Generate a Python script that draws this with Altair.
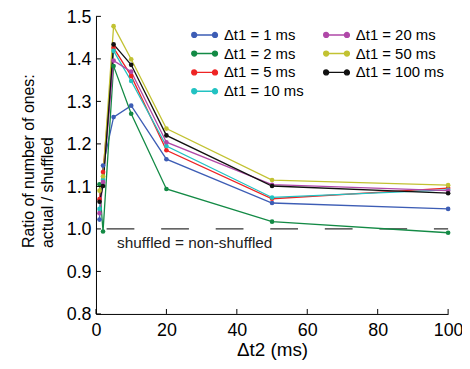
import altair as alt
import pandas as pd

dt2 = [1, 2, 5, 10, 20, 50, 100]
series_names = ["Δt1 = 1 ms", "Δt1 = 2 ms", "Δt1 = 5 ms", "Δt1 = 10 ms",
                "Δt1 = 20 ms", "Δt1 = 50 ms", "Δt1 = 100 ms"]
s1 = [1.022, 1.149, 1.263, 1.290, 1.164, 1.061, 1.047]
s2 = [1.105, 0.994, 1.383, 1.271, 1.094, 1.017, 0.991]
s5 = [1.070, 1.134, 1.426, 1.360, 1.185, 1.071, 1.096]
s10 = [1.047, 1.115, 1.419, 1.348, 1.195, 1.074, 1.092]
s20 = [1.037, 1.110, 1.396, 1.370, 1.204, 1.104, 1.090]
s50 = [1.090, 1.124, 1.477, 1.399, 1.236, 1.115, 1.103]
s100 = [1.064, 1.101, 1.434, 1.386, 1.220, 1.101, 1.084]
colors = ["#3D5DB5", "#138A45", "#EE2424", "#22C2C2", "#B048A8", "#C2C232", "#111111"]

y_ticks = [0.8, 0.9, 1.0, 1.1, 1.2, 1.3, 1.4, 1.5]
x_ticks = [0, 20, 40, 60, 80, 100]
ref_value = [1.0]
ref_label = ["shuffled = non-shuffled"]

all_series = [s1, s2, s5, s10, s20, s50, s100]
rows = []
for name, vals in zip(series_names, all_series):
    for x, v in zip(dt2, vals):
        rows.append({"dt2": x, "ratio": v, "series": name})
df = pd.DataFrame(rows)

FONT = "Liberation Sans"
W, H = 355, 300

xscale = alt.Scale(domain=[0, 100], nice=False)
yscale = alt.Scale(domain=[0.8, 1.5], nice=False, zero=False)
cscale = alt.Scale(domain=series_names, range=colors)

sym = ("M-1.9,0L1.9,0"
       "M-2.35,0A0.45,0.45,0,1,0,-1.45,0A0.45,0.45,0,1,0,-2.35,0"
       "M1.45,0A0.45,0.45,0,1,0,2.35,0A0.45,0.45,0,1,0,1.45,0")

xaxis = alt.Axis(values=x_ticks, title="Δt2 (ms)", grid=False, ticks=False,
                 labelFontSize=18, titleFontSize=19, labelPadding=8,
                 labelFlush=False, titlePadding=1, domainColor="#000",
                 labelColor="#000", titleColor="#000", titleFontWeight="normal")
yaxis = alt.Axis(values=y_ticks, format=".1f", grid=False, ticks=False,
                 title=["Ratio of number of ones:", "actual / shuffled"],
                 labelFontSize=18, titleFontSize=16, labelPadding=5,
                 labelFlush=False, labelOffset=1,
                 titleAngle=270, titleAlign="left", titleBaseline="alphabetic",
                 titleX=-63, titleY=233, titleLineHeight=19,
                 domainColor="#000", labelColor="#000", titleColor="#000",
                 titleFontWeight="normal")

base = alt.Chart(df)

ref = alt.Chart(pd.DataFrame({"v": ref_value})).mark_rule(
    color="#333", strokeWidth=1.4, strokeDash=[28, 27], strokeDashOffset=13.7
).encode(y=alt.Y("v:Q", scale=yscale, axis=yaxis))

lines = base.mark_line(strokeWidth=1.3).encode(
    x=alt.X("dt2:Q", scale=xscale, axis=xaxis),
    y=alt.Y("ratio:Q", scale=yscale),
    color=alt.Color("series:N", scale=cscale,
                    legend=alt.Legend(title=None, orient="none", legendX=96,
                                      legendY=11, columns=2, symbolType=sym,
                                      symbolSize=121, symbolStrokeWidth=1.4,
                                      labelFontSize=15, labelFont=FONT,
                                      labelColor="#000", labelOffset=12,
                                      rowPadding=3, columnPadding=16,
                                      symbolOffset=6)),
    detail="series:N",
)
points = base.mark_point(filled=True, size=22, opacity=1).encode(
    x=alt.X("dt2:Q", scale=xscale),
    y=alt.Y("ratio:Q", scale=yscale),
    color=alt.Color("series:N", scale=cscale),
)

ytick_df = pd.DataFrame({"v": y_ticks})
xtick_df = pd.DataFrame({"v": x_ticks})
yt = alt.Chart(ytick_df).mark_rule(color="#000", strokeWidth=1).encode(
    y=alt.Y("v:Q", scale=yscale), x=alt.value(0), x2=alt.value(5))
xt = alt.Chart(xtick_df).mark_rule(color="#000", strokeWidth=1).encode(
    x=alt.X("v:Q", scale=xscale), y=alt.value(H), y2=alt.value(H - 5))

label = alt.Chart(pd.DataFrame({"x": [6.0], "y": [0.954], "t": ref_label})).mark_text(
    align="left", baseline="alphabetic", fontSize=15.5, font=FONT, color="#222"
).encode(x=alt.X("x:Q", scale=xscale), y=alt.Y("y:Q", scale=yscale), text="t:N")

chart = alt.layer(ref, lines, points, yt, xt, label).properties(
    width=W, height=H,
    autosize=alt.AutoSizeParams(type="none"),
    padding={"left": 88.7, "top": 7, "right": 14, "bottom": 46},
).configure(font=FONT).configure_view(strokeWidth=0).configure_axis(
    labelFont=FONT, titleFont=FONT, domainWidth=1)

chart.save("out.html", embed_options={"renderer": "svg", "actions": False})
